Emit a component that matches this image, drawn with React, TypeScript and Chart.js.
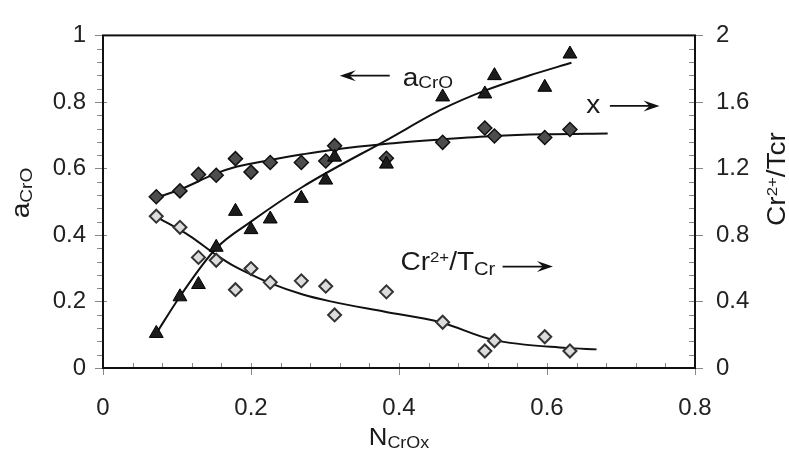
import React, { useEffect, useRef } from 'react';
import { Chart, registerables } from 'chart.js';

Chart.register(...registerables);

// ---- data ----
const nCrOx = [0.072, 0.104, 0.129, 0.153, 0.179, 0.200, 0.226, 0.268, 0.301, 0.313, 0.383, 0.459, 0.516, 0.529, 0.597, 0.631];
const aCrO = [0.104, 0.214, 0.251, 0.363, 0.471, 0.416, 0.448, 0.510, 0.565, 0.634, 0.613, 0.815, 0.824, 0.879, 0.844, 0.944];
const xRatio = [1.030, 1.065, 1.164, 1.159, 1.259, 1.178, 1.236, 1.236, 1.245, 1.337, 1.261, 1.357, 1.443, 1.395, 1.386, 1.434];
const cr2Ratio = [0.913, 0.846, 0.665, 0.648, 0.471, 0.598, 0.515, 0.524, 0.492, 0.319, 0.458, 0.275, 0.102, 0.164, 0.188, 0.102];

const aCrOFitX = [0.072, 0.104, 0.153, 0.200, 0.270, 0.387, 0.459, 0.516, 0.577, 0.633];
const aCrOFitY = [0.104, 0.215, 0.360, 0.440, 0.545, 0.690, 0.779, 0.834, 0.880, 0.918];
const xFitX = [0.072, 0.105, 0.153, 0.180, 0.225, 0.270, 0.306, 0.387, 0.459, 0.529, 0.596, 0.682];
const xFitY = [1.024, 1.075, 1.170, 1.210, 1.250, 1.285, 1.310, 1.350, 1.375, 1.395, 1.405, 1.410];
const cr2FitX = [0.072, 0.117, 0.153, 0.176, 0.200, 0.225, 0.270, 0.306, 0.381, 0.456, 0.527, 0.626, 0.667];
const cr2FitY = [0.909, 0.795, 0.680, 0.615, 0.562, 0.512, 0.442, 0.402, 0.338, 0.275, 0.169, 0.121, 0.112];

const xTicks = [0, 0.2, 0.4, 0.6, 0.8];
const yLeftTicks = [0, 0.2, 0.4, 0.6, 0.8, 1];
const yRightTicks = [0, 0.4, 0.8, 1.2, 1.6, 2];

const FONT = '"Liberation Sans", Arial, Helvetica, sans-serif';
const SX = 1.12; // horizontal stretch of the reference lettering

type Part = { t: string; s: number; dy?: number };

function partsWidth(ctx: CanvasRenderingContext2D, parts: Part[]) {
  let w = 0;
  for (const p of parts) {
    ctx.font = `${p.s}px ${FONT}`;
    w += ctx.measureText(p.t).width;
  }
  return w * SX;
}
function drawParts(ctx: CanvasRenderingContext2D, parts: Part[], x: number, y: number) {
  ctx.save();
  ctx.translate(x, y);
  ctx.scale(SX, 1);
  let cx = 0;
  for (const p of parts) {
    ctx.font = `${p.s}px ${FONT}`;
    ctx.fillText(p.t, cx, p.dy || 0);
    cx += ctx.measureText(p.t).width;
  }
  ctx.restore();
}
function arrow(ctx: CanvasRenderingContext2D, x1: number, x2: number, y: number) {
  const d = Math.sign(x2 - x1);
  ctx.save();
  ctx.strokeStyle = '#111';
  ctx.fillStyle = '#111';
  ctx.lineWidth = 1.8;
  ctx.beginPath();
  ctx.moveTo(x1, y);
  ctx.lineTo(x2 - d * 8, y);
  ctx.stroke();
  ctx.beginPath();
  ctx.moveTo(x2, y);
  ctx.lineTo(x2 - d * 16, y - 5.5);
  ctx.lineTo(x2 - d * 10, y);
  ctx.lineTo(x2 - d * 16, y + 5.5);
  ctx.closePath();
  ctx.fill();
  ctx.restore();
}

const decor = {
  id: 'decor',
  afterDraw(chart: any) {
    const ctx: CanvasRenderingContext2D = chart.ctx;
    const { left, right, top, bottom } = chart.chartArea;
    const xs = chart.scales.x;
    const yl = chart.scales.y;
    const yr = chart.scales.y2;
    ctx.save();
    // ticks
    ctx.strokeStyle = '#888';
    ctx.lineWidth = 1;
    ctx.beginPath();
    for (let i = 0; i <= 20; i++) {
      const p = Math.round(xs.getPixelForValue(i * 0.04)) + 0.5;
      const major = i % 5 === 0;
      ctx.moveTo(p, bottom - 5);
      ctx.lineTo(p, bottom + (major ? 7 : 0));
    }
    for (let i = 0; i <= 25; i++) {
      const p = Math.round(yl.getPixelForValue(i * 0.04)) + 0.5;
      const major = i % 5 === 0;
      ctx.moveTo(left - (major ? 8 : 6), p);
      ctx.lineTo(left + (major ? 4 : 0), p);
    }
    for (let i = 0; i <= 25; i++) {
      const p = Math.round(yr.getPixelForValue(i * 0.08)) + 0.5;
      const major = i % 5 === 0;
      ctx.moveTo(right - 6, p);
      ctx.lineTo(right + (major ? 8 : 0), p);
    }
    ctx.stroke();
    // box
    ctx.strokeStyle = '#111';
    ctx.lineWidth = 2;
    ctx.strokeRect(left, top, right - left, bottom - top);

    ctx.fillStyle = '#1a1a1a';
    ctx.textBaseline = 'alphabetic';
    ctx.textAlign = 'left';
    // x title
    const xt: Part[] = [{ t: 'N', s: 23 }, { t: 'CrOx', s: 16, dy: 3 }];
    drawParts(ctx, xt, (left + right) / 2 - partsWidth(ctx, xt) / 2, 445);
    // left title
    const lt: Part[] = [{ t: 'a', s: 25 }, { t: 'CrO', s: 17, dy: 3 }];
    ctx.save();
    ctx.translate(29, 193);
    ctx.rotate(-Math.PI / 2);
    drawParts(ctx, lt, -partsWidth(ctx, lt) / 2, 0);
    ctx.restore();
    // right title
    const rt: Part[] = [{ t: 'Cr', s: 25 }, { t: '2+', s: 15, dy: -8 }, { t: '/Tcr', s: 25 }];
    ctx.save();
    ctx.translate(785, 179);
    ctx.rotate(-Math.PI / 2);
    drawParts(ctx, rt, -partsWidth(ctx, rt) / 2, 0);
    ctx.restore();

    // annotations
    const X = (v: number) => xs.getPixelForValue(v);
    const Y = (v: number) => yl.getPixelForValue(v);
    arrow(ctx, X(0.3875), X(0.32), Y(0.879));
    drawParts(ctx, [{ t: 'a', s: 25 }, { t: 'CrO', s: 17, dy: 2 }], X(0.405), Y(0.848));
    drawParts(ctx, [{ t: 'x', s: 25 }], X(0.653), Y(0.766));
    arrow(ctx, X(0.685), X(0.752), Y(0.788));
    drawParts(ctx, [{ t: 'Cr', s: 25 }, { t: '2+', s: 15, dy: -8 }, { t: '/T', s: 25 }, { t: 'Cr', s: 18, dy: 5 }], X(0.402), Y(0.296));
    arrow(ctx, X(0.540), X(0.608), Y(0.305));
    ctx.restore();
  },
};

const fmt = (v: any) => String(Math.round(Number(v) * 100) / 100);

export default function App() {
  const ref = useRef<HTMLCanvasElement>(null);
  useEffect(() => {
    const canvas = ref.current!;
    const pts = (xa: number[], ya: number[]) => xa.map((x, i) => ({ x, y: ya[i] }));
    const lineDs = (data: any, axis: string) => ({
      type: 'line' as const,
      data,
      yAxisID: axis,
      showLine: true,
      borderColor: '#111',
      borderWidth: 2,
      pointRadius: 0,
      tension: 0.4,
      cubicInterpolationMode: 'monotone' as const,
      fill: false,
    });
    const tickFont = { family: FONT, size: 24 };
    const chart = new Chart(canvas, {
      type: 'scatter',
      data: {
        datasets: [
          {
            label: 'aCrO',
            data: pts(nCrOx, aCrO),
            yAxisID: 'y',
            pointStyle: 'triangle',
            pointRadius: 8,
            backgroundColor: '#1c1c1c',
            borderColor: '#000',
            borderWidth: 1,
          },
          {
            label: 'x',
            data: pts(nCrOx, xRatio),
            yAxisID: 'y2',
            pointStyle: 'rectRot',
            pointRadius: 7,
            backgroundColor: '#4d4d4d',
            borderColor: '#111',
            borderWidth: 1.5,
          },
          {
            label: 'Cr2+/TCr',
            data: pts(nCrOx, cr2Ratio),
            yAxisID: 'y2',
            pointStyle: 'rectRot',
            pointRadius: 6.5,
            backgroundColor: '#dcdcdc',
            borderColor: '#333',
            borderWidth: 2,
          },
          lineDs(pts(aCrOFitX, aCrOFitY), 'y') as any,
          lineDs(pts(xFitX, xFitY), 'y2') as any,
          lineDs(pts(cr2FitX, cr2FitY), 'y2') as any,
        ],
      },
      options: {
        responsive: false,
        animation: false,
        events: [],
        layout: { padding: { top: 21, left: 0, right: 0, bottom: 0 } },
        plugins: { legend: { display: false }, tooltip: { enabled: false } },
        scales: {
          x: {
            type: 'linear',
            position: 'bottom',
            min: 0,
            max: 0.8,
            afterBuildTicks: (s: any) => { s.ticks = xTicks.map((v) => ({ value: v })); },
            afterFit: (s: any) => { s.height = 82; },
            grid: { display: false, drawTicks: false },
            border: { display: false },
            ticks: { padding: 26, color: '#222', font: tickFont, maxRotation: 0, callback: fmt },
          },
          y: {
            type: 'linear',
            position: 'left',
            min: 0,
            max: 1,
            afterBuildTicks: (s: any) => { s.ticks = yLeftTicks.map((v) => ({ value: v })); },
            afterFit: (s: any) => { s.width = 103; },
            grid: { display: false, drawTicks: false },
            border: { display: false },
            ticks: { padding: 17, color: '#222', font: tickFont, callback: fmt },
          },
          y2: {
            type: 'linear',
            position: 'right',
            min: 0,
            max: 2,
            afterBuildTicks: (s: any) => { s.ticks = yRightTicks.map((v) => ({ value: v })); },
            afterFit: (s: any) => { s.width = 94; },
            grid: { display: false, drawTicks: false },
            border: { display: false },
            ticks: { padding: 21, color: '#222', font: tickFont, callback: fmt },
          },
        },
      } as any,
      plugins: [decor],
    });
    return () => chart.destroy();
  }, []);
  return (
    <div style={{ position: 'fixed', left: 0, top: 0, width: 789, height: 450, background: '#fff' }}>
      <canvas ref={ref} width={789} height={450} style={{ display: 'block' }} />
    </div>
  );
}
